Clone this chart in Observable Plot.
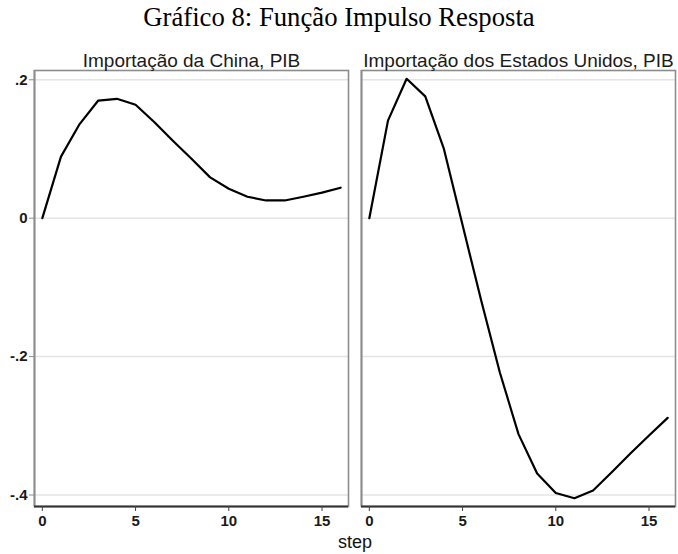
<!DOCTYPE html>
<html>
<head>
<meta charset="utf-8">
<script src="https://cdn.jsdelivr.net/npm/d3@7"></script>
<script src="https://cdn.jsdelivr.net/npm/@observablehq/plot@0.6"></script>
<style>
  html, body { margin: 0; padding: 0; background: #fff; }
  #wrap { position: relative; width: 678px; height: 554px; overflow: hidden; }
  #title { position: absolute; left: 0; width: 678px; top: 4px; text-align: center;
           font-family: "Liberation Serif", "Times New Roman", serif; font-size: 26.7px; color: #000; line-height: 1; }
  #xlabel { position: absolute; left: 255px; width: 200px; top: 533px; text-align: center;
            font-family: "Liberation Sans", Arial, sans-serif; font-size: 18px; color: #111; line-height: 1; }
  #chart { position: absolute; left: 0; top: 0; }
  #chart svg g[aria-label="y-axis tick label"],
  #chart svg g[aria-label="x-axis tick label"] { font-weight: bold; }
</style>
</head>
<body>
<div id="wrap">
  <div id="chart"></div>
  <div id="title">Gráfico 8: Função Impulso Resposta</div>
  <div id="xlabel">step</div>
</div>
<script>
const steps = [0, 1, 2, 3, 4, 5, 6, 7, 8, 9, 10, 11, 12, 13, 14, 15, 16];
const china = [0, 0.089, 0.136, 0.170, 0.1725, 0.164, 0.139, 0.112, 0.086, 0.059, 0.0425, 0.031, 0.0256, 0.0256, 0.031, 0.037, 0.044];
const eua = [0, 0.141, 0.2014, 0.176, 0.100, -0.010, -0.119, -0.223, -0.312, -0.369, -0.397, -0.4046, -0.3935, -0.367, -0.340, -0.314, -0.2885];
const panels = ["china", "eua"];
const panelTitles = ["Importação da China, PIB", "Importação dos Estados Unidos, PIB"];
const yTicks = [0.2, 0, -0.2, -0.4];
const yTickLabels = [".2", "0", "-.2", "-.4"];
const xTicks = [0, 5, 10, 15];

const data = [
  ...steps.map((s, i) => ({panel: panels[0], step: s, value: china[i]})),
  ...steps.map((s, i) => ({panel: panels[1], step: s, value: eua[i]}))
];

const xDom = [-0.42, 16.42];
const yDom = [-0.4166, 0.2134];

const chart = Plot.plot({
  width: 678,
  height: 554,
  marginLeft: 34,
  marginRight: 3,
  marginTop: 70,
  marginBottom: 48,
  style: {fontFamily: "Liberation Sans, Arial, sans-serif", color: "#1a1a1a", background: "transparent", fontSize: "15px"},
  fx: {domain: panels, paddingInner: 0.04, paddingOuter: 0},
  x: {domain: xDom},
  y: {domain: yDom},
  marks: [
    Plot.gridY(yTicks, {stroke: "#e4e4e4", strokeOpacity: 1, strokeWidth: 1.5}),
    Plot.frame({stroke: "#8c8c8c", strokeWidth: 1.6}),
    Plot.ruleX([xDom[0]], {stroke: "#8c8c8c", strokeWidth: 1.8}),
    Plot.ruleY([yDom[0]], {stroke: "#333", strokeWidth: 1.8}),
    Plot.lineY(data, {x: "step", y: "value", fx: "panel", stroke: "#000", strokeWidth: 2.2}),
    Plot.axisY(yTicks, {anchor: "left", tickSize: 5, tickPadding: 2, fontSize: 15, stroke: "#8c8c8c",
      tickFormat: d => yTickLabels[yTicks.indexOf(d)], label: null}),
    Plot.axisX(xTicks, {anchor: "bottom", tickSize: 5, tickPadding: 4, fontSize: 15, stroke: "#444", label: null}),
    Plot.axisFx({anchor: "top", tickSize: 0, tickPadding: 4, fontSize: 19, label: null,
      tickFormat: d => panelTitles[panels.indexOf(d)]})
  ]
});
document.getElementById("chart").appendChild(chart);
</script>
</body>
</html>
